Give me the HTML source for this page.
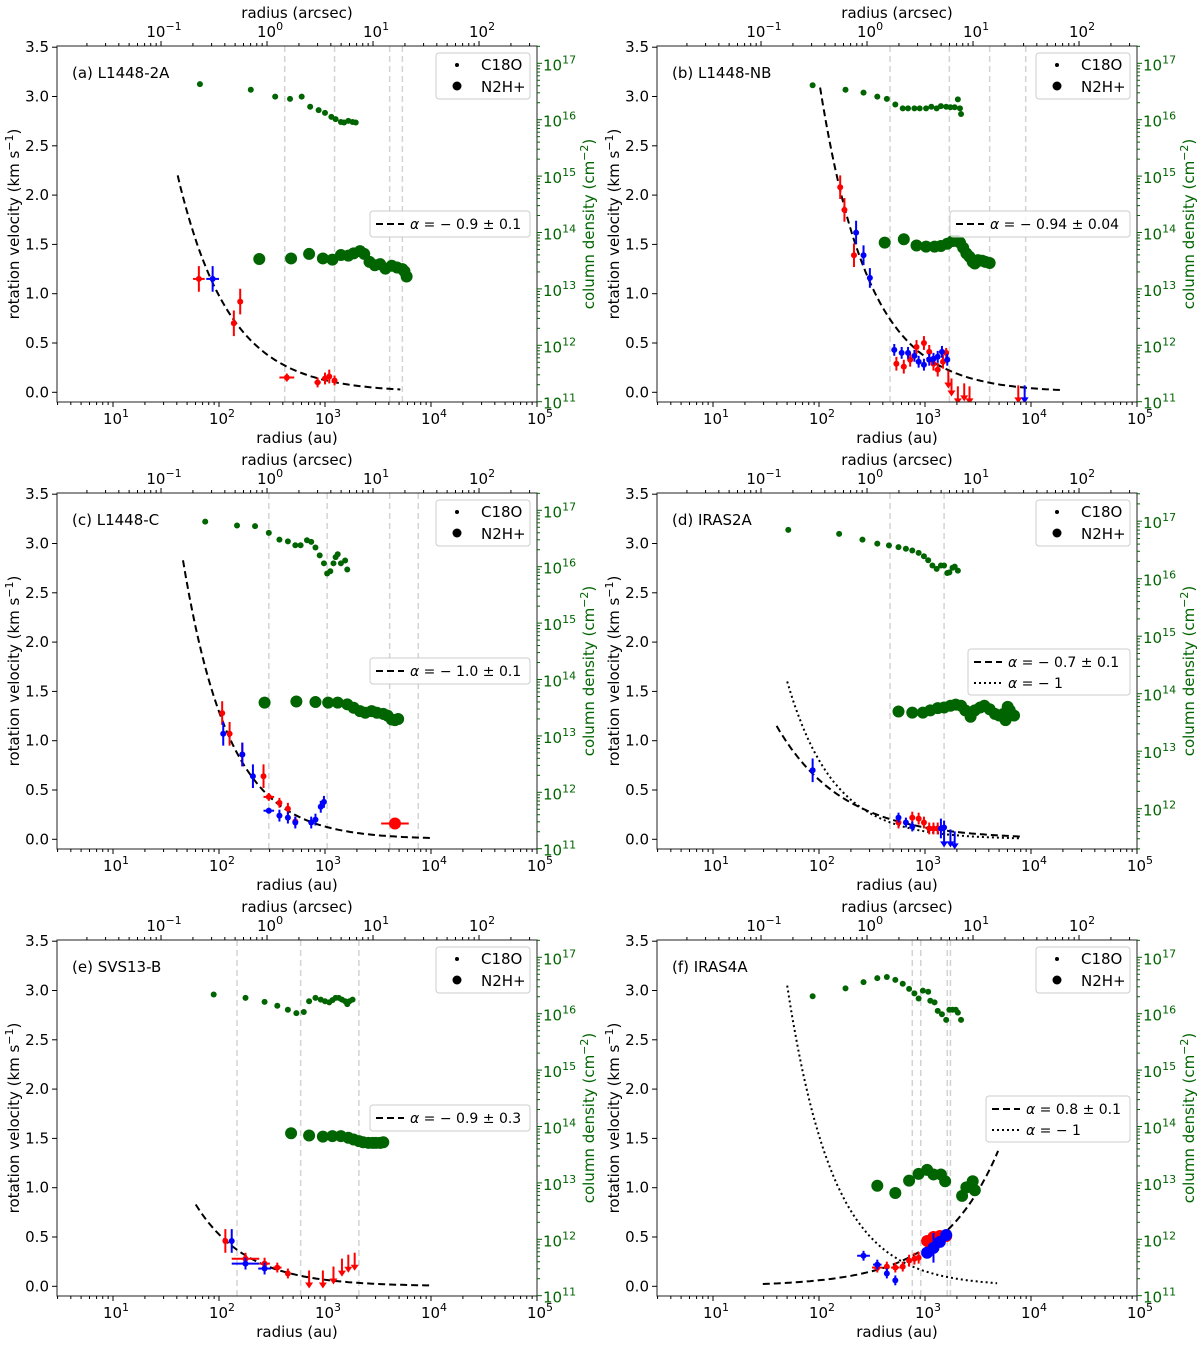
<!DOCTYPE html>
<html><head><meta charset="utf-8"><style>
body{margin:0;background:#fff}
svg text{font-family:"DejaVu Sans","Liberation Sans",sans-serif;}
</style></head><body>
<svg id="fig" xmlns="http://www.w3.org/2000/svg" width="1200" height="1341" viewBox="0 0 1200 1341"></svg>
<script>
// ---- Panel (a) L1448-2A ----
const aC18oR=[1.82,2.30,2.53,2.67,2.78,2.86,2.94,3.00,3.06,3.10,3.15,3.18,3.22,3.26,3.29];
const aC18oN=[16.63,16.53,16.41,16.37,16.41,16.23,16.17,16.12,16.05,16.01,15.96,15.95,15.98,15.96,15.95];
const aN2hR=[2.38,2.68,2.85,2.98,3.07,3.15,3.22,3.27,3.33,3.37,3.42,3.47,3.52,3.57,3.63,3.68,3.73,3.75,3.77];
const aN2hN=[13.53,13.54,13.62,13.54,13.52,13.60,13.59,13.63,13.67,13.62,13.48,13.42,13.44,13.36,13.41,13.38,13.35,13.31,13.22];
const aRedR=[1.81,2.14,2.20,2.64,2.93,3.00,3.04,3.09];
const aRedV=[1.15,0.70,0.92,0.15,0.10,0.14,0.16,0.12];
const aRedE=[0.13,0.13,0.13,0.04,0.05,0.06,0.07,0.05];
const aRedX=[0.055,0,0,0.07,0.03,0,0,0];
const aBlueR=[1.94];const aBlueV=[1.15];const aBlueE=[0.13];const aBlueX=[0.06];
const aVlines=[2.62,3.09,3.61,3.73];
// ---- Panel (b) L1448-NB ----
const bC18oR=[1.94,2.25,2.42,2.55,2.64,2.72,2.79,2.84,2.90,2.95,3.01,3.06,3.11,3.15,3.20,3.24,3.28,3.31,3.33,3.34];
const bC18oN=[16.61,16.53,16.48,16.41,16.37,16.27,16.20,16.20,16.20,16.20,16.20,16.23,16.20,16.24,16.23,16.22,16.22,16.36,16.20,16.10];
const bN2hR=[2.62,2.80,2.92,3.01,3.09,3.15,3.21,3.26,3.30,3.33,3.36,3.39,3.42,3.45,3.47,3.50,3.54,3.57,3.61];
const bN2hN=[13.82,13.88,13.77,13.75,13.75,13.76,13.80,13.85,13.85,13.82,13.73,13.63,13.57,13.48,13.45,13.51,13.50,13.48,13.46];
const bRedR=[2.20,2.24,2.33,2.73,2.80,2.86,2.92,2.99,3.04,3.08,3.12,3.17,3.20];
const bRedV=[2.08,1.85,1.39,0.29,0.26,0.33,0.46,0.50,0.41,0.29,0.23,0.31,0.40];
const bRedE=[0.12,0.12,0.12,0.07,0.07,0.07,0.07,0.07,0.07,0.07,0.07,0.07,0.05];
const bRedUpR=[3.22,3.25,3.31,3.37,3.42,3.88];
const bRedUpV=[0.18,0.10,0.02,0.05,0.02,0.03];
const bBlueR=[2.35,2.42,2.48,2.71,2.78,2.84,2.90,2.94,2.99,3.04,3.08,3.12,3.16,3.21];
const bBlueV=[1.62,1.39,1.16,0.43,0.40,0.40,0.37,0.31,0.28,0.33,0.34,0.36,0.41,0.33];
const bBlueE=[0.12,0.1,0.1,0.06,0.06,0.06,0.06,0.06,0.06,0.06,0.06,0.06,0.06,0.06];
const bBlueUpR=[3.94];const bBlueUpV=[0.03];
const bVlines=[2.67,3.23,3.61,3.95];
// ---- Panel (c) L1448-C ----
const cC18oR=[1.87,2.17,2.34,2.47,2.57,2.65,2.72,2.77,2.83,2.87,2.91,2.95,2.99,3.02,3.05,3.08,3.10,3.12,3.15,3.19,3.21];
const cC18oN=[16.80,16.73,16.72,16.60,16.48,16.45,16.38,16.38,16.47,16.44,16.34,16.20,16.06,15.88,15.92,16.06,16.17,16.22,16.06,16.11,15.95];
const cN2hR=[2.43,2.73,2.91,3.03,3.12,3.21,3.27,3.33,3.38,3.44,3.49,3.55,3.59,3.63,3.66,3.69];
const cN2hN=[13.59,13.61,13.60,13.59,13.59,13.56,13.50,13.44,13.41,13.44,13.41,13.39,13.36,13.29,13.28,13.30];
const cRedR=[2.03,2.10,2.22,2.42,2.47,2.57,2.65,2.72];
const cRedV=[1.28,1.07,0.86,0.64,0.43,0.37,0.31,0.18];
const cRedE=[0.12,0.12,0.12,0.12,0.04,0.05,0.06,0.05];
const cRedX=[0,0,0,0,0.05,0,0,0];
const cBigRedR=[3.66];const cBigRedV=[0.16];const cBigRedX=[0.13];
const cBlueR=[2.04,2.22,2.32,2.47,2.57,2.65,2.72,2.87,2.91,2.96,2.99];
const cBlueV=[1.07,0.86,0.64,0.29,0.24,0.22,0.17,0.17,0.20,0.33,0.38];
const cBlueE=[0.12,0.12,0.12,0.03,0.06,0.06,0.06,0.06,0.06,0.06,0.06];
const cBlueX=[0,0,0,0.05,0,0,0,0,0,0,0];
const cVlines=[2.47,3.02,3.61,3.88];
// ---- Panel (d) IRAS2A ----
const dC18oR=[1.71,2.19,2.41,2.55,2.66,2.75,2.82,2.88,2.94,2.99,3.03,3.07,3.11,3.15,3.18,3.21,3.23,3.26,3.28,3.31];
const dC18oN=[16.85,16.78,16.68,16.61,16.58,16.55,16.52,16.49,16.45,16.39,16.32,16.23,16.17,16.23,16.23,16.10,16.11,16.19,16.21,16.14];
const dN2hR=[2.75,2.88,2.98,3.05,3.12,3.18,3.24,3.29,3.34,3.38,3.43,3.47,3.52,3.56,3.61,3.66,3.70,3.74,3.76,3.78,3.80,3.84];
const dN2hN=[13.69,13.67,13.67,13.71,13.75,13.76,13.79,13.81,13.79,13.71,13.60,13.71,13.76,13.79,13.73,13.65,13.62,13.65,13.54,13.77,13.71,13.62];
const dRedR=[2.75,2.88,2.94,2.99,3.04,3.08,3.12];
const dRedV=[0.17,0.22,0.21,0.17,0.11,0.11,0.11];
const dRedE=[0.06,0.06,0.06,0.06,0.06,0.06,0.06];
const dBlueR=[1.94,2.75,2.82,2.88,3.15,3.18];
const dBlueV=[0.70,0.22,0.17,0.13,0.11,0.12];
const dBlueE=[0.12,0.05,0.05,0.05,0.10,0.07];
const dBlueUpR=[3.18,3.24,3.28];const dBlueUpV=[0.06,0.06,0.04];
const dVlines=[2.67,3.18];
// ---- Panel (e) SVS13-B ----
const eC18oR=[1.95,2.25,2.43,2.55,2.65,2.73,2.80,2.85,2.91,2.96,3.00,3.04,3.07,3.10,3.13,3.16,3.19,3.21,3.23,3.26];
const eC18oN=[16.34,16.28,16.21,16.14,16.07,16.01,16.03,16.22,16.28,16.25,16.22,16.20,16.24,16.28,16.28,16.25,16.22,16.17,16.22,16.25];
const eN2hR=[2.68,2.85,2.98,3.07,3.15,3.22,3.27,3.32,3.36,3.41,3.45,3.48,3.52,3.55];
const eN2hN=[13.88,13.84,13.82,13.83,13.83,13.80,13.77,13.74,13.72,13.71,13.71,13.71,13.71,13.72];
const eRedR=[2.06,2.25,2.43,2.55,2.65];
const eRedV=[0.46,0.28,0.23,0.19,0.13];
const eRedE=[0.12,0.06,0.06,0.05,0.05];
const eRedX=[0,0.13,0.05,0.04,0];
const eRedUpR=[2.85,2.98,3.08,3.16,3.22,3.28];
const eRedUpV=[0.12,0.12,0.16,0.24,0.28,0.30];
const eBlueR=[2.12,2.25,2.43];const eBlueV=[0.46,0.23,0.18];const eBlueE=[0.12,0.06,0.06];const eBlueX=[0,0.13,0.06];
const eVlines=[2.17,2.77,3.32];
// ---- Panel (f) IRAS4A ----
const fC18oR=[1.94,2.25,2.42,2.55,2.64,2.72,2.79,2.85,2.90,2.94,2.98,3.03,3.05,3.09,3.12,3.16,3.20,3.23,3.26,3.29,3.31,3.34];
const fC18oN=[16.31,16.45,16.56,16.63,16.65,16.60,16.53,16.44,16.36,16.27,16.41,16.39,16.23,16.20,16.05,15.99,15.89,16.07,16.07,16.07,16.02,15.89];
const fN2hR=[2.55,2.72,2.85,2.94,3.02,3.08,3.15,3.19,3.35,3.39,3.44,3.45,3.47];
const fN2hN=[12.95,12.82,13.04,13.16,13.23,13.15,13.15,13.03,12.77,12.92,12.95,13.03,12.87];
const fRedR=[2.55,2.64,2.72,2.79,2.85,2.90,2.94];
const fRedV=[0.19,0.20,0.19,0.20,0.26,0.28,0.29];
const fRedE=[0.05,0.05,0.05,0.05,0.06,0.06,0.06];
const fRedX=[0.05,0,0.04,0,0,0,0];
const fBigRedR=[3.02,3.08,3.14,3.20];const fBigRedV=[0.46,0.50,0.51,0.51];
const fBlueR=[2.42,2.55,2.64,2.72];const fBlueV=[0.31,0.22,0.13,0.06];const fBlueE=[0.05,0.05,0.05,0.05];const fBlueX=[0.06,0.04,0,0];
const fBigBlueR=[3.02,3.08,3.14,3.20];const fBigBlueV=[0.34,0.39,0.45,0.52];const fBigBlueE=[0.05,0.15,0.05,0.05];
const fVlines=[2.88,2.96,3.21,3.24];

const NS="http://www.w3.org/2000/svg";
const svg=document.getElementById('fig');
function mk(tag,attrs,parent){const e=document.createElementNS(NS,tag);for(const k in attrs)e.setAttribute(k,attrs[k]);(parent||svg).appendChild(e);return e;}
const GREEN="#006400";
const ARCSEC_OFF=2.453;
const FS=15, SFS=11;

function panel(P){
  const ox=P.ox, oy=P.oy;
  const g=mk('g',{});
  
  
  const L=57+ox,R=537+ox,T=46+oy,B=402+oy;
  const X=lr=>113+ox+(lr-1)*106;
  const Y=v=>392.3+oy-v*98.6;
  const YN=n=>P.nRefY+oy-(n-P.nRef)*P.nDec;
  const cp=mk('clipPath',{id:'clip'+P.id},g);mk('rect',{x:L,y:T,width:R-L,height:B-T},cp);
  const pg=mk('g',{'clip-path':'url(#clip'+P.id+')'},g);
  P.vl.forEach(lr=>{const l=mk('line',{x1:X(lr),x2:X(lr),y1:T,y2:B,stroke:'#d3d3d3','stroke-width':1.5,'stroke-dasharray':'6,4'},pg);
    });
  function curve(f,dash,name){let d='';for(let i=0;i<=80;i++){const lr=f.r1+(f.r2-f.r1)*i/80;const v=f.v0*Math.pow(10,f.a*(lr-f.r1));d+=(i?'L':'M')+X(lr).toFixed(1)+','+Y(v).toFixed(1);}
    const p=mk('path',{d:d,fill:'none',stroke:'#000','stroke-width':2,'stroke-dasharray':dash},pg);
    }
  if(P.fit)curve(P.fit,'7,4','power-law-fit');
  if(P.dot)curve(P.dot,'2,3','keplerian-curve');
  P.c18oR.forEach((lr,i)=>{const c=mk('circle',{cx:X(lr),cy:YN(P.c18oN[i]),r:3,fill:GREEN},pg);
    });
  P.n2hR.forEach((lr,i)=>{const c=mk('circle',{cx:X(lr),cy:YN(P.n2hN[i]),r:6,fill:GREEN},pg);
    });
  function pts(Rs,Vs,Es,Xs,col,rad,name){Rs.forEach((lr,i)=>{const e=Es?Es[i]:0.05,xe=Xs?Xs[i]:0;
      const gg=mk('g',{},pg);
      mk('line',{x1:X(lr),x2:X(lr),y1:Y(Vs[i]-e),y2:Y(Vs[i]+e),stroke:col,'stroke-width':2},gg);
      if(xe>0)mk('line',{x1:X(lr-xe),x2:X(lr+xe),y1:Y(Vs[i]),y2:Y(Vs[i]),stroke:col,'stroke-width':2},gg);
      mk('circle',{cx:X(lr),cy:Y(Vs[i]),r:rad,fill:col},gg);});}
  function ups(Rs,Vs,col,name){Rs.forEach((lr,i)=>{const x=X(lr),y=Y(Vs[i]);
      const gg=mk('g',{},pg);
      mk('line',{x1:x,x2:x,y1:y-4,y2:y+10,stroke:col,'stroke-width':2},gg);
      mk('path',{d:`M${x-4},${y+8}L${x+4},${y+8}L${x},${y+14}Z`,fill:col},gg);});}
  if(P.red)pts(P.red.R,P.red.V,P.red.E,P.red.X,'#ff0000',3,'redshifted-velocity-point');
  if(P.blue)pts(P.blue.R,P.blue.V,P.blue.E,P.blue.X,'#0000ff',3,'blueshifted-velocity-point');
  if(P.bigRed)pts(P.bigRed.R,P.bigRed.V,P.bigRed.E,P.bigRed.X,'#ff0000',6,'n2h-red-velocity-point');
  if(P.bigBlue)pts(P.bigBlue.R,P.bigBlue.V,P.bigBlue.E,P.bigBlue.X,'#0000ff',6,'n2h-blue-velocity-point');
  if(P.redUp)ups(P.redUp.R,P.redUp.V,'#ff0000','red-upper-limit');
  if(P.blueUp)ups(P.blueUp.R,P.blueUp.V,'#0000ff','blue-upper-limit');
  const fr=mk('rect',{x:L,y:T,width:R-L,height:B-T,fill:'none',stroke:'#222','stroke-width':1},g);
  
  function sup(x,y,base,exp,anchor,col,name){const t=mk('text',{x:x,y:y,'font-size':FS,'text-anchor':anchor,fill:col||'#000'},g);
    
    const a=mk('tspan',{},t);a.textContent=base;const b=mk('tspan',{'font-size':SFS,dy:-7},t);b.textContent=exp;return t;}
  for(let d=0;d<=5;d++)for(let k=1;k<10;k++){const lr=d+Math.log10(k);const x=X(lr);if(x<L-0.1||x>R+0.1)continue;
    const len=k==1?5:3;mk('line',{x1:x,x2:x,y1:B,y2:B+len,stroke:'#000'},g);
    if(k==1&&d>=1)sup(x+3,B+22,'10',String(d),'middle',null,'x-tick-label');}
  for(let d=-2;d<=3;d++)for(let k=1;k<10;k++){const lr=d+Math.log10(k)+ARCSEC_OFF;const x=X(lr);if(x<L-0.1||x>R+0.1)continue;
    const len=k==1?5:3;mk('line',{x1:x,x2:x,y1:T,y2:T-len,stroke:'#000'},g);
    if(k==1)sup(x+3,T-9,'10',d<0?'\u2212'+(-d):String(d),'middle',null,'top-tick-label');}
  for(let i=0;i<=7;i++){const v=i*0.5,y=Y(v);mk('line',{x1:L,x2:L-5,y1:y,y2:y,stroke:'#000'},g);
    const t=mk('text',{x:L-8,y:y+5,'font-size':FS,'text-anchor':'end'},g);t.textContent=v.toFixed(1);
    }
  for(let d=10;d<=18;d++)for(let k=1;k<10;k++){const n=d+Math.log10(k);const y=YN(n);if(y<T-0.1||y>B+0.1)continue;
    const len=k==1?5:3;mk('line',{x1:R,x2:R+len,y1:y,y2:y,stroke:GREEN},g);
    if(k==1)sup(R+6,y+7,'10',String(d),'start',GREEN,'right-tick-label');}
  function lab(txt,x,y,rot,col,name){const t=mk('text',{x:x,y:y,'font-size':FS,'text-anchor':'middle',fill:col||'#000',transform:rot?`rotate(${rot} ${x} ${y})`:''},g);
    t.innerHTML=txt;}
  lab('radius (au)',(L+R)/2,B+41,0,null,'x-axis-title');
  lab('radius (arcsec)',(L+R)/2,oy+18,0,null,'top-axis-title');
  lab('rotation velocity (km s<tspan font-size="11" dy="-6">\u22121</tspan><tspan dy="6">)</tspan>',ox+19,oy+224,-90,null,'y-axis-title');
  lab('column density (cm<tspan font-size="11" dy="-6">\u22122</tspan><tspan dy="6">)</tspan>',ox+594,oy+224,-90,GREEN,'right-axis-title');
  const pl=mk('text',{x:L+15,y:oy+78,'font-size':FS},g);pl.textContent=P.label;
  
  const lg=mk('g',{},g);
  mk('rect',{x:ox+436,y:oy+53,width:94,height:46,rx:3,fill:'#fff',stroke:'#ccc','fill-opacity':0.8},lg);
  mk('circle',{cx:ox+457,cy:oy+65,r:2,fill:'#000'},lg);mk('circle',{cx:ox+457,cy:oy+86,r:4.5,fill:'#000'},lg);
  let t=mk('text',{x:ox+481,y:oy+70,'font-size':FS},lg);t.textContent='C18O';
  t=mk('text',{x:ox+481,y:oy+92,'font-size':FS},lg);t.textContent='N2H+';
  const fg=mk('g',{},g);
  const lx=ox+P.fl,two=!!P.dot,h=two?46:26,ly=oy+(two?202:211);
  mk('rect',{x:lx,y:ly,width:ox+530-lx,height:h,rx:3,fill:'#fff',stroke:'#ccc','fill-opacity':0.8},fg);
  mk('line',{x1:lx+6,x2:lx+34,y1:ly+13,y2:ly+13,stroke:'#000','stroke-width':2,'stroke-dasharray':'7,4'},fg);
  t=mk('text',{x:lx+40,y:ly+18,'font-size':14},fg);t.innerHTML='<tspan font-style="italic">α</tspan> = '+P.ftxt;
  if(two){mk('line',{x1:lx+6,x2:lx+34,y1:ly+34,y2:ly+34,stroke:'#000','stroke-width':2,'stroke-dasharray':'2,3'},fg);
    t=mk('text',{x:lx+40,y:ly+39,'font-size':14},fg);t.innerHTML='<tspan font-style="italic">α</tspan> = \u2212 1';}
}
const std={nRef:11,nRefY:401.7,nDec:56.4};
panel(Object.assign({id:'a',ox:0,oy:0,label:'(a) L1448-2A',c18oR:aC18oR,c18oN:aC18oN,n2hR:aN2hR,n2hN:aN2hN,
  red:{R:aRedR,V:aRedV,E:aRedE,X:aRedX},blue:{R:aBlueR,V:aBlueV,E:aBlueE,X:aBlueX},vl:aVlines,
  fit:{a:-0.9,r1:1.61,r2:3.71,v0:2.2},fl:370,ftxt:'\u2212 0.9 ± 0.1'},std));
panel(Object.assign({id:'b',ox:600,oy:0,label:'(b) L1448-NB',c18oR:bC18oR,c18oN:bC18oN,n2hR:bN2hR,n2hN:bN2hN,
  red:{R:bRedR,V:bRedV,E:bRedE},blue:{R:bBlueR,V:bBlueV,E:bBlueE},redUp:{R:bRedUpR,V:bRedUpV},blueUp:{R:bBlueUpR,V:bBlueUpV},vl:bVlines,
  fit:{a:-0.94,r1:2.01,r2:4.28,v0:3.09},fl:350,ftxt:'\u2212 0.94 ± 0.04'},std));
panel(Object.assign({id:'c',ox:0,oy:447,label:'(c) L1448-C',c18oR:cC18oR,c18oN:cC18oN,n2hR:cN2hR,n2hN:cN2hN,
  red:{R:cRedR,V:cRedV,E:cRedE,X:cRedX},blue:{R:cBlueR,V:cBlueV,E:cBlueE,X:cBlueX},bigRed:{R:cBigRedR,V:cBigRedV,E:[0.03],X:cBigRedX},vl:cVlines,
  fit:{a:-1.0,r1:1.66,r2:4.0,v0:2.83},fl:370,ftxt:'\u2212 1.0 ± 0.1'},std));
panel({id:'d',ox:600,oy:447,label:'(d) IRAS2A',nRef:12,nRefY:361.7,nDec:57.5,c18oR:dC18oR,c18oN:dC18oN,n2hR:dN2hR,n2hN:dN2hN,
  red:{R:dRedR,V:dRedV,E:dRedE},blue:{R:dBlueR,V:dBlueV,E:dBlueE},blueUp:{R:dBlueUpR,V:dBlueUpV},vl:dVlines,
  fit:{a:-0.7,r1:1.60,r2:3.90,v0:1.15},dot:{a:-1,r1:1.70,r2:3.90,v0:1.60},fl:368,ftxt:'\u2212 0.7 ± 0.1'});
panel(Object.assign({id:'e',ox:0,oy:894,label:'(e) SVS13-B',c18oR:eC18oR,c18oN:eC18oN,n2hR:eN2hR,n2hN:eN2hN,
  red:{R:eRedR,V:eRedV,E:eRedE,X:eRedX},blue:{R:eBlueR,V:eBlueV,E:eBlueE,X:eBlueX},redUp:{R:eRedUpR,V:eRedUpV},vl:eVlines,
  fit:{a:-0.9,r1:1.78,r2:4.0,v0:0.83},fl:370,ftxt:'\u2212 0.9 ± 0.3'},std));
panel(Object.assign({id:'f',ox:600,oy:894,label:'(f) IRAS4A',c18oR:fC18oR,c18oN:fC18oN,n2hR:fN2hR,n2hN:fN2hN,
  red:{R:fRedR,V:fRedV,E:fRedE,X:fRedX},blue:{R:fBlueR,V:fBlueV,E:fBlueE,X:fBlueX},
  bigRed:{R:fBigRedR,V:fBigRedV,E:[0.04,0.04,0.04,0.04]},bigBlue:{R:fBigBlueR,V:fBigBlueV,E:fBigBlueE},vl:fVlines,
  fit:{a:0.8,r1:1.47,r2:3.69,v0:0.023},dot:{a:-1,r1:1.70,r2:3.68,v0:3.05},fl:386,ftxt:'0.8 ± 0.1'},std));
</script>
</body></html>
